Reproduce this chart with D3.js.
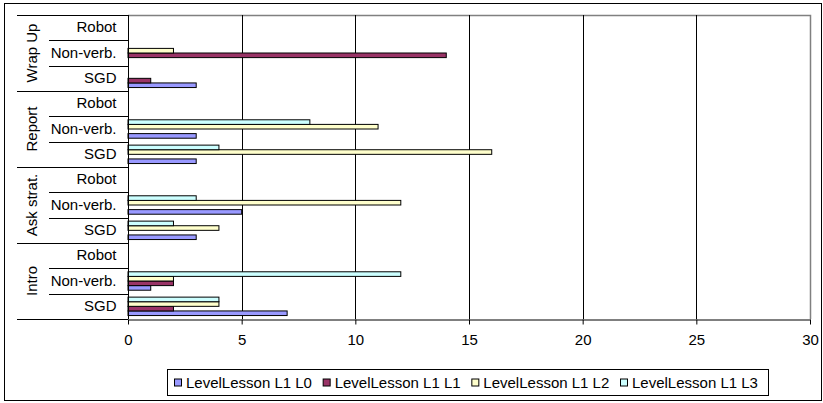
<!DOCTYPE html>
<html>
<head>
<meta charset="utf-8">
<script src="https://cdn.jsdelivr.net/npm/d3@7/dist/d3.min.js"></script>
<style>
  html, body { margin: 0; padding: 0; background: #fff; }
  svg { display: block; font-family: "Liberation Sans", Arial, sans-serif; }
</style>
</head>
<body>
<svg id="chart" width="823" height="403"></svg>
<script>
// Lesson phases (outer category level) and condition (inner level), bottom to top
const groups = ["Intro", "Ask strat.", "Report", "Wrap Up"];
const subcats = ["SGD", "Non-verb.", "Robot"];
const seriesNames = ["LevelLesson L1 L0", "LevelLesson L1 L1", "LevelLesson L1 L2", "LevelLesson L1 L3"];
const seriesColors = ["#9999FF", "#993366", "#FFFFCC", "#CCFFFF"];
const xTicks = [0, 5, 10, 15, 20, 25, 30];

// Values per row: Intro SGD, Intro Non-verb., Intro Robot, Ask strat. SGD, ... Wrap Up Robot
const valuesL0 = [7, 1, 0, 3, 5, 0, 3, 3, 0, 3, 0, 0];
const valuesL1 = [2, 2, 0, 0, 0, 0, 0, 0, 0, 1, 14, 0];
const valuesL2 = [4, 2, 0, 4, 12, 0, 16, 11, 0, 0, 2, 0];
const valuesL3 = [4, 12, 0, 2, 3, 0, 4, 8, 0, 0, 0, 0];
const seriesValues = [valuesL0, valuesL1, valuesL2, valuesL3];

const rows = [];
groups.forEach(g => subcats.forEach(s => rows.push({ group: g, sub: s, key: g + "|" + s })));

const svg = d3.select("#chart");
const plot = { left: 128, right: 810, top: 15, bottom: 319 };
const FONT = "Liberation Sans, Arial, sans-serif";

// Outer chart frame
svg.append("rect")
  .attr("x", 4.5).attr("y", 3.5).attr("width", 817).attr("height", 397)
  .attr("fill", "#fff").attr("stroke", "#000").attr("stroke-width", 1);

const x = d3.scaleLinear().domain([0, 30]).range([plot.left, plot.right]);
// First row sits at the bottom
const y = d3.scaleBand()
  .domain(rows.map(r => r.key).reverse())
  .range([plot.top, plot.bottom])
  .paddingInner(0).paddingOuter(0);

// 150% gap between groups: each bar is bandwidth / 5.5
const barH = y.bandwidth() / 5.5;
const inner = d3.scaleBand()
  .domain([3, 2, 1, 0])
  .range([0, barH * 4]);
const innerOffset = (y.bandwidth() - barH * 4) / 2;

// Plot area border (grey top/right)
svg.append("path")
  .attr("d", `M${plot.left},${plot.top + 0.5}H${plot.right + 0.5}V${plot.bottom}`)
  .attr("fill", "none").attr("stroke", "#808080").attr("stroke-width", 1.5);

// Vertical gridlines
svg.append("g")
  .selectAll("line")
  .data(xTicks.filter(t => t > 0 && t < 30))
  .join("line")
  .attr("x1", d => Math.round(x(d)) + 0.5).attr("x2", d => Math.round(x(d)) + 0.5)
  .attr("y1", plot.top).attr("y2", plot.bottom)
  .attr("stroke", "#000").attr("stroke-width", 1);

// Bars
const barData = [];
rows.forEach((r, i) => {
  seriesValues.forEach((vals, s) => {
    if (vals[i] > 0) barData.push({ key: r.key, series: s, value: vals[i] });
  });
});

svg.append("g")
  .selectAll("rect")
  .data(barData)
  .join("rect")
  .attr("x", x(0))
  .attr("y", d => y(d.key) + innerOffset + inner(d.series))
  .attr("width", d => x(d.value) - x(0))
  .attr("height", inner.bandwidth())
  .attr("fill", d => seriesColors[d.series])
  .attr("stroke", "#000")
  .attr("stroke-width", 1);

// Bottom axis
const xAxis = svg.append("g")
  .attr("transform", `translate(0,${plot.bottom + 0.5})`)
  .call(d3.axisBottom(x).tickValues(xTicks).tickSize(5).tickSizeOuter(0).tickPadding(10));
xAxis.select(".domain").attr("stroke", "#000");
xAxis.selectAll(".tick line").attr("stroke", "#000");
xAxis.selectAll("text")
  .attr("font-size", "15px").attr("fill", "#000")
  .attr("font-family", FONT);

// Left axis: inner category labels
const yAxis = svg.append("g")
  .attr("transform", `translate(${plot.left + 0.5},0)`)
  .call(d3.axisLeft(y).tickSize(0).tickPadding(12).tickFormat(k => k.split("|")[1]));
yAxis.select(".domain").attr("stroke", "#000").attr("d", `M0,${plot.top}V${plot.bottom}`);
yAxis.selectAll("text")
  .attr("font-size", "15px").attr("fill", "#000")
  .attr("font-family", FONT);

// Category separators: long lines between phases, short lines between conditions
const sep = svg.append("g").attr("stroke", "#000").attr("stroke-width", 1);
rows.forEach((r, i) => {
  const top = y(r.key);
  const isGroupTop = i % 3 === 2;
  sep.append("line")
    .attr("x1", isGroupTop ? 17 : 49).attr("x2", plot.left)
    .attr("y1", Math.round(top) + 0.5).attr("y2", Math.round(top) + 0.5);
});
sep.append("line")
  .attr("x1", 17).attr("x2", plot.left)
  .attr("y1", plot.bottom + 0.5).attr("y2", plot.bottom + 0.5);

// Outer category labels, rotated
svg.append("g")
  .selectAll("text")
  .data(groups)
  .join("text")
  .attr("transform", g => {
    const top = y(g + "|Robot");
    const bottom = y(g + "|SGD") + y.bandwidth();
    return `translate(31,${(top + bottom) / 2}) rotate(-90)`;
  })
  .attr("text-anchor", "middle")
  .attr("dominant-baseline", "central")
  .attr("font-size", "15px")
  .attr("fill", "#000")
  .text(g => g);

// Legend
const legend = svg.append("g");
legend.append("rect")
  .attr("x", 167.5).attr("y", 369.5).attr("width", 601).attr("height", 26)
  .attr("fill", "#fff").attr("stroke", "#000").attr("stroke-width", 1);

const legendX = d3.scalePoint().domain(d3.range(4)).range([174, 620]);
const items = legend.selectAll("g.item")
  .data(seriesNames)
  .join("g")
  .attr("class", "item")
  .attr("transform", (d, i) => `translate(${legendX(i)},382.5)`);
items.append("rect")
  .attr("x", 0.5).attr("y", -3.5).attr("width", 7).attr("height", 7)
  .attr("fill", (d, i) => seriesColors[i])
  .attr("stroke", "#000").attr("stroke-width", 1);
items.append("text")
  .attr("x", 12).attr("y", 0)
  .attr("dominant-baseline", "central")
  .attr("font-size", "15px")
  .attr("fill", "#000")
  .text(d => d);
</script>
</body>
</html>
